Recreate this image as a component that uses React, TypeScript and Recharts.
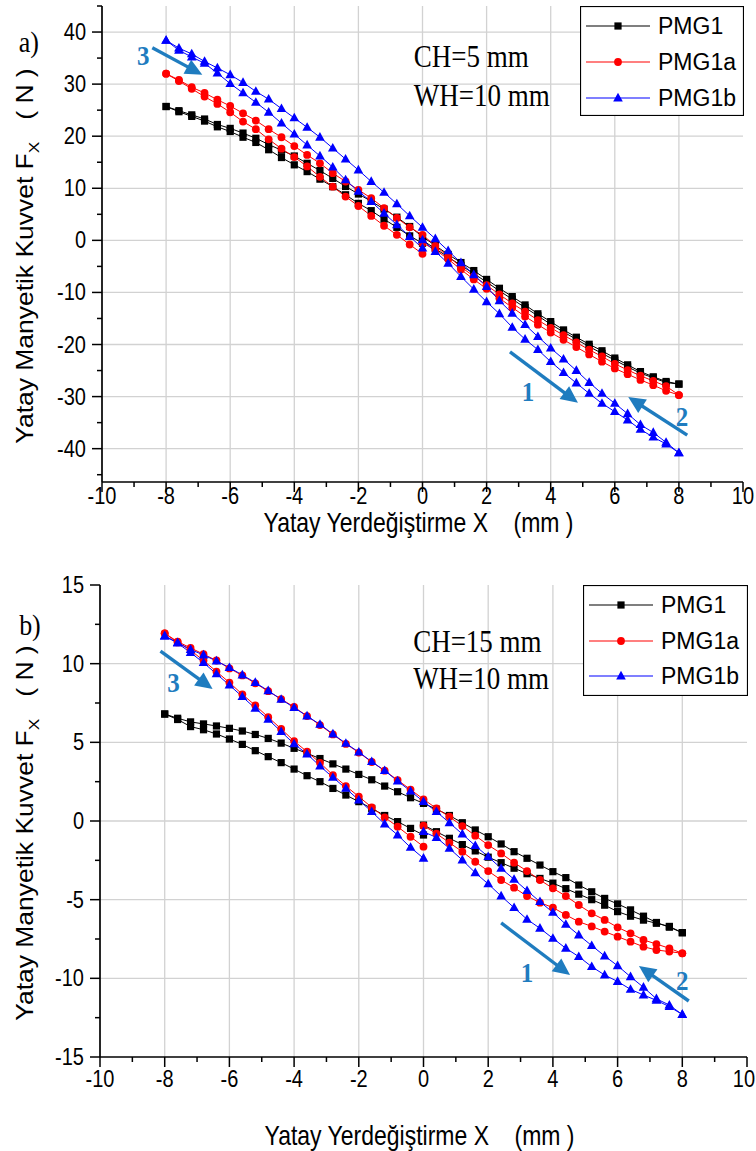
import React from 'react';
import {
  LineChart,
  Line,
  XAxis,
  YAxis,
  CartesianGrid,
  ReferenceLine,
  ReferenceDot,
  Legend,
} from 'recharts';

// ---------- x positions of the three sweeps (mm) ----------
const X_OUT = [0, 0.4, 0.8, 1.2, 1.6, 2, 2.4, 2.8, 3.2, 3.6, 4, 4.4, 4.8, 5.2, 5.6, 6, 6.4, 6.8, 7.2, 7.6, 8];
const X_BACK = [8, 7.6, 7.2, 6.8, 6.4, 6, 5.6, 5.2, 4.8, 4.4, 4, 3.6, 3.2, 2.8, 2.4, 2, 1.6, 1.2, 0.8, 0.4, 0,
  -0.4, -0.8, -1.2, -1.6, -2, -2.4, -2.8, -3.2, -3.6, -4, -4.4, -4.8, -5.2, -5.6, -6, -6.4, -6.8, -7.2, -7.6, -8];
const X_RET = [-8, -7.6, -7.2, -6.8, -6.4, -6, -5.6, -5.2, -4.8, -4.4, -4, -3.6, -3.2, -2.8, -2.4, -2, -1.6, -1.2, -0.8, -0.4, 0];

// ---------- panel a) CH=5 mm ----------
const A_PMG1_OUT = [0.0, -1.6, -3.2, -4.8, -6.4, -8.0, -9.7, -11.3, -12.9, -14.5, -16.1, -17.6, -19.0, -20.4, -21.7, -23.0, -24.3, -25.5, -26.4, -27.3, -27.6];
const A_PMG1_BACK = [-27.6, -27.1, -26.2, -25.2, -23.9, -22.6, -21.2, -19.95, -18.6, -17.2, -15.6, -14.1, -12.4, -10.8, -9.2, -7.5, -5.8, -4.26, -2.7, -1.0, 0.7,
  2.66, 4.45, 6.0, 7.5, 8.9, 10.35, 11.9, 13.4, 14.8, 16.2, 17.3, 18.4, 19.6, 20.6, 21.5, 22.25, 23.3, 24.1, 24.9, 25.7];
const A_PMG1_RET = [25.7, 24.7, 23.8, 22.9, 21.8, 20.9, 19.8, 18.8, 17.4, 15.9, 14.5, 13.2, 11.75, 10.3, 8.75, 7.1, 5.7, 4.07, 2.5, 0.86, -0.55];

const A_PMG1A_OUT = [-0.5, -1.8, -3.6, -5.6, -7.5, -9.3, -11.1, -12.9, -14.6, -16.2, -17.7, -19.1, -20.5, -21.9, -23.3, -24.6, -25.7, -26.8, -27.8, -28.9, -29.7];
const A_PMG1A_BACK = [-29.7, -28.0, -27.0, -26.0, -24.9, -23.7, -22.3, -21.0, -19.6, -18.2, -16.8, -15.3, -13.7, -12.1, -10.4, -8.6, -6.9, -5.1, -3.1, -1.05, 1.06,
  2.5, 4.3, 6.2, 8.1, 9.7, 11.3, 12.9, 14.8, 16.4, 18.1, 19.8, 21.35, 23.0, 24.4, 25.8, 27.0, 28.3, 29.4, 30.8, 32.0];
const A_PMG1A_RET = [32.0, 30.6, 29.1, 27.6, 26.2, 24.6, 22.8, 21.35, 19.4, 17.6, 16.0, 14.2, 12.2, 10.3, 8.4, 6.6, 4.7, 2.8, 1.06, -0.8, -2.6];

const A_PMG1B_OUT = [0.1, -2.15, -4.4, -6.95, -9.4, -11.8, -14.1, -16.7, -19.0, -21.0, -23.3, -25.4, -27.4, -29.4, -31.3, -32.9, -34.5, -36.3, -37.8, -39.1, -40.8];
const A_PMG1B_BACK = [-40.8, -38.8, -36.9, -35.4, -33.3, -31.3, -29.4, -27.3, -25.0, -22.8, -20.7, -18.5, -16.2, -14.0, -11.6, -8.9, -6.6, -4.3, -2.0, 0.3, 2.5,
  4.7, 7.0, 9.2, 11.3, 13.5, 15.6, 17.7, 19.8, 21.7, 23.5, 25.3, 27.1, 28.6, 30.3, 31.8, 33.1, 34.35, 35.8, 36.9, 38.4];
const A_PMG1B_RET = [38.4, 36.5, 35.2, 34.0, 32.1, 30.1, 28.3, 26.5, 24.6, 22.5, 20.4, 18.3, 16.2, 14.05, 11.6, 9.4, 7.45, 5.2, 3.0, 0.73, -1.5];

// ---------- panel b) CH=15 mm ----------
const B_PMG1_OUT = [-0.26, -0.68, -1.1, -1.5, -1.9, -2.3, -2.65, -3.0, -3.35, -3.65, -3.95, -4.3, -4.65, -5.0, -5.35, -5.76, -6.05, -6.3, -6.5, -6.7, -7.1];
const B_PMG1_BACK = [-7.1, -6.75, -6.45, -6.05, -5.65, -5.27, -4.92, -4.5, -4.07, -3.6, -3.22, -2.8, -2.37, -1.95, -1.46, -1.0, -0.57, -0.11, 0.35, 0.75, 1.12,
  1.48, 1.86, 2.22, 2.62, 2.96, 3.3, 3.63, 3.97, 4.3, 4.62, 4.95, 5.25, 5.5, 5.72, 5.89, 6.04, 6.17, 6.3, 6.53, 6.8];
const B_PMG1_RET = [6.8, 6.45, 6.0, 5.8, 5.53, 5.21, 4.87, 4.47, 4.09, 3.71, 3.3, 2.88, 2.5, 2.07, 1.65, 1.23, 0.8, 0.35, -0.04, -0.47, -0.89];

const B_PMG1A_OUT = [-0.3, -0.8, -1.38, -1.95, -2.59, -3.18, -3.75, -4.24, -4.77, -5.19, -5.5, -5.97, -6.4, -6.7, -7.03, -7.35, -7.67, -7.99, -8.2, -8.3, -8.41];
const B_PMG1A_BACK = [-8.41, -8.09, -7.82, -7.56, -7.14, -6.76, -6.29, -5.87, -5.34, -4.77, -4.28, -3.75, -3.18, -2.65, -2.06, -1.53, -0.93, -0.32, 0.27, 0.8, 1.38,
  2.0, 2.6, 3.2, 3.75, 4.35, 4.9, 5.5, 6.1, 6.67, 7.25, 7.75, 8.25, 8.75, 9.25, 9.7, 10.2, 10.6, 11.0, 11.4, 11.93];
const B_PMG1A_RET = [11.93, 11.35, 10.85, 10.2, 9.5, 8.8, 8.05, 7.35, 6.6, 5.85, 5.08, 4.4, 3.7, 2.92, 2.22, 1.55, 0.87, 0.23, -0.36, -1.0, -1.63];

const B_PMG1B_OUT = [-0.68, -1.05, -1.74, -2.48, -3.29, -4.0, -4.77, -5.51, -6.25, -6.82, -7.46, -8.09, -8.62, -9.26, -9.79, -10.2, -10.7, -11.06, -11.4, -11.8, -12.3];
const B_PMG1B_BACK = [-12.3, -11.7, -11.3, -10.57, -9.9, -9.2, -8.58, -7.92, -7.25, -6.57, -5.81, -5.13, -4.43, -3.71, -3.01, -2.27, -1.57, -0.83, -0.11, 0.59, 1.23,
  1.9, 2.54, 3.2, 3.77, 4.38, 4.93, 5.53, 6.14, 6.67, 7.2, 7.73, 8.28, 8.8, 9.28, 9.75, 10.17, 10.55, 10.9, 11.34, 11.76];
const B_PMG1B_RET = [11.76, 11.3, 10.7, 10.06, 9.35, 8.64, 7.9, 7.16, 6.46, 5.68, 4.9, 4.26, 3.49, 2.77, 2.07, 1.33, 0.59, -0.19, -0.89, -1.68, -2.37];

// ---------- axes ----------
const X_TICKS = [-10, -9, -8, -7, -6, -5, -4, -3, -2, -1, 0, 1, 2, 3, 4, 5, 6, 7, 8, 9, 10];
const X_MAJOR = [-10, -8, -6, -4, -2, 0, 2, 4, 6, 8, 10];
const X_GRID = [-8, -6, -4, -2, 0, 2, 4, 6, 8];
const A_Y_TICKS = [-45, -40, -35, -30, -25, -20, -15, -10, -5, 0, 5, 10, 15, 20, 25, 30, 35, 40, 45];
const A_Y_MAJOR = [-40, -30, -20, -10, 0, 10, 20, 30, 40];
const A_Y_GRID = [-40, -30, -20, -10, 0, 10, 20, 30, 40];
const B_Y_TICKS = [-15, -12.5, -10, -7.5, -5, -2.5, 0, 2.5, 5, 7.5, 10, 12.5, 15];
const B_Y_MAJOR = [-15, -10, -5, 0, 5, 10, 15];
const B_Y_GRID = [-10, -5, 0, 5, 10];

const SERIES_NAMES = ['PMG1', 'PMG1a', 'PMG1b'];
const SERIES_COLORS = ['#000000', '#ff0000', '#0000ff'];
const SERIES_MARKERS = ['square', 'circle', 'triangle'];

// arrows [x1, y1, x2(tip), y2(tip)] and their numbers [label, x, y]
const A_ARROWS = [[-8.43, 36.98, -6.87, 31.8], [2.73, -21.4, 4.85, -31.2], [8.26, -37.4, 6.42, -30.1]];
const A_ARROW_LABELS: [string, number, number][] = [['3', -8.71, 35.3], ['1', 3.29, -29.1], ['2', 8.1, -33.9]];
const B_ARROWS = [[-8.13, 10.8, -6.52, 8.39], [2.4, -6.48, 4.53, -9.79], [8.2, -11.44, 6.66, -9.22]];
const B_ARROW_LABELS: [string, number, number][] = [['3', -7.73, 8.77], ['1', 3.2, -9.66], ['2', 8.0, -10.2]];

const SANS = '"Liberation Sans", Arial, Helvetica, sans-serif';
const SERIF = '"Liberation Serif", "Times New Roman", Times, serif';
const ARROW_COLOR = '#1f7cbf';

function buildLoop(out: number[], back: number[], ret: number[]) {
  return [
    ...X_OUT.map((x, i) => ({ x, y: out[i] })),
    ...X_BACK.map((x, i) => ({ x, y: back[i] })),
    ...X_RET.map((x, i) => ({ x, y: ret[i] })),
  ];
}

const A_DATA = [
  buildLoop(A_PMG1_OUT, A_PMG1_BACK, A_PMG1_RET),
  buildLoop(A_PMG1A_OUT, A_PMG1A_BACK, A_PMG1A_RET),
  buildLoop(A_PMG1B_OUT, A_PMG1B_BACK, A_PMG1B_RET),
];
const B_DATA = [
  buildLoop(B_PMG1_OUT, B_PMG1_BACK, B_PMG1_RET),
  buildLoop(B_PMG1A_OUT, B_PMG1A_BACK, B_PMG1A_RET),
  buildLoop(B_PMG1B_OUT, B_PMG1B_BACK, B_PMG1B_RET),
];

function markerEl(type: string, cx: number, cy: number, color: string, key?: any) {
  if (cx == null || cy == null || isNaN(cx) || isNaN(cy)) return <g key={key} />;
  if (type === 'square') {
    return <rect key={key} x={cx - 3.6} y={cy - 3.6} width={7.2} height={7.2} fill={color} />;
  }
  if (type === 'circle') {
    return <circle key={key} cx={cx} cy={cy} r={3.9} fill={color} />;
  }
  return (
    <path
      key={key}
      d={`M${cx},${cy - 5.2} L${cx + 4.8},${cy + 3.4} L${cx - 4.8},${cy + 3.4} Z`}
      fill={color}
    />
  );
}

const isIn = (arr: number[], v: number) => arr.some((a) => Math.abs(a - v) < 1e-6);

const AXIS_LINE = { stroke: '#000', strokeWidth: 1.7 };

function makeBottomTick(labelDy: number) {
  return (p: any) => {
    const v = p.payload.value;
    const major = isIn(X_MAJOR, v);
    const last = v >= 10;
    return (
      <g>
        <line x1={p.x} y1={p.y} x2={p.x} y2={p.y + (major ? 10 : 5)} stroke="#000" strokeWidth={1.5} />
        {major && (
          <text
            transform={`translate(${last ? Math.min(p.x + 11, 755) : p.x}, ${p.y + labelDy}) scale(1, 1.15)`}
            x={0}
            y={0}
            textAnchor={last ? 'end' : 'middle'}
            fontFamily={SANS}
            fontSize={20}
            fill="#000"
          >
            {String(v)}
          </text>
        )}
      </g>
    );
  };
}
const topTick = (p: any) => {
  const major = isIn(X_MAJOR, p.payload.value);
  return <line x1={p.x} y1={p.y} x2={p.x} y2={p.y + (major ? 10 : 5)} stroke="#000" strokeWidth={1.5} />;
};
function makeLeftTick(majors: number[]) {
  return (p: any) => {
    const v = p.payload.value;
    const major = isIn(majors, v);
    return (
      <g>
        <line x1={p.x} y1={p.y} x2={p.x - (major ? 10 : 5)} y2={p.y} stroke="#000" strokeWidth={1.5} />
        {major && (
          <text
            transform={`translate(${p.x - 16}, ${p.y + 8}) scale(1, 1.15)`}
            x={0}
            y={0}
            textAnchor="end"
            fontFamily={SANS}
            fontSize={20}
            fill="#000"
          >
            {String(v)}
          </text>
        )}
      </g>
    );
  };
}
function makeRightTick(majors: number[]) {
  return (p: any) => {
    const major = isIn(majors, p.payload.value);
    return <line x1={p.x} y1={p.y} x2={p.x - (major ? 10 : 5)} y2={p.y} stroke="#000" strokeWidth={1.5} />;
  };
}

function arrowShape(p: any) {
  const { x1, y1, x2, y2 } = p;
  if ([x1, y1, x2, y2].some((v) => v == null || isNaN(v))) return <g />;
  const dx = x2 - x1;
  const dy = y2 - y1;
  const len = Math.sqrt(dx * dx + dy * dy) || 1;
  const ux = dx / len;
  const uy = dy / len;
  const head = 17;
  const half = 8;
  const bx = x2 - ux * head;
  const by = y2 - uy * head;
  return (
    <g>
      <line x1={x1} y1={y1} x2={bx + ux * 2} y2={by + uy * 2} stroke={ARROW_COLOR} strokeWidth={3.4} />
      <polygon
        points={`${x2},${y2} ${bx - uy * half},${by + ux * half} ${bx + uy * half},${by - ux * half}`}
        fill={ARROW_COLOR}
      />
    </g>
  );
}

function textShape(label: string, opts: any) {
  return (p: any) => (
    <text
      transform={`translate(${p.cx}, ${p.cy}) scale(1, ${opts.stretch || 1})`}
      x={0}
      y={0}
      fill={opts.fill || '#000'}
      fontFamily={opts.family || SERIF}
      fontSize={opts.size}
      fontWeight={opts.weight || 'normal'}
      textAnchor={opts.anchor || 'start'}
      dominantBaseline={opts.baseline || 'auto'}
      style={{ whiteSpace: 'pre' }}
    >
      {label}
    </text>
  );
}

function LegendBox({ width, height, rows }: { width: number; height: number; rows: number[] }) {
  return (
    <svg width={width} height={height} style={{ display: 'block' }}>
      <rect x={0.5} y={0.5} width={width - 1} height={height - 1} fill="#fff" stroke="#000" strokeWidth={1.2} />
      {SERIES_NAMES.map((name, i) => (
        <g key={name}>
          <line x1={6} y1={rows[i]} x2={70} y2={rows[i]} stroke={SERIES_COLORS[i]} strokeWidth={1.2} />
          {markerEl(SERIES_MARKERS[i], 38, rows[i], SERIES_COLORS[i])}
          <text x={78} y={rows[i] + 8} fontFamily={SANS} fontSize={23} fill="#000">
            {name}
          </text>
        </g>
      ))}
    </svg>
  );
}

type PanelCfg = {
  height: number;
  margin: { top: number; right: number; bottom: number; left: number };
  yAxisWidth: number;
  xAxisHeight: number;
  yDomain: [number, number];
  yTicks: number[];
  yMajor: number[];
  yGrid: number[];
  data: { x: number; y: number }[][];
  arrows: number[][];
  arrowLabels: [string, number, number][];
  panelLabel: [string, number, number];
  notes: [string, number, number][];
  legendPos: { left: number; top: number; width: number; height: number; rows: number[] };
  xTickDy: number;
  xTitleDy: number;
};

function Panel({ cfg }: { cfg: PanelCfg }) {
  const xTitle = (p: any) => {
    const vb = p.viewBox || { x: 0, y: 0, width: 0, height: 0 };
    return (
      <text
        transform={`translate(${vb.x + vb.width / 2 - 4}, ${vb.y + cfg.xTitleDy}) scale(1, 1.2)`}
        x={0}
        y={0}
        textAnchor="middle"
        fontFamily={SANS}
        fontSize={23}
        fill="#000"
        style={{ whiteSpace: 'pre' }}
      >
        {'Yatay Yerdeğiştirme X    (mm )'}
      </text>
    );
  };
  const yTitle = (p: any) => {
    const vb = p.viewBox || { x: 0, y: 0, width: 0, height: 0 };
    const cy = vb.y + vb.height / 2 + 12;
    return (
      <text
        transform={`translate(${vb.x + 33}, ${cy}) rotate(-90) scale(1.15, 1)`}
        x={0}
        y={0}
        textAnchor="middle"
        fontFamily={SANS}
        fontSize={23}
        fill="#000"
        style={{ whiteSpace: 'pre' }}
      >
        {'Yatay Manyetik Kuvvet F'}
        <tspan fontSize={15} dy={6}>X</tspan>
        <tspan dy={-6}>{'   ( N )'}</tspan>
      </text>
    );
  };

  return (
    <LineChart width={756} height={cfg.height} margin={cfg.margin}>
      <CartesianGrid
        stroke="#d2d2d2"
        strokeWidth={1.3}
        verticalValues={X_GRID}
        horizontalValues={cfg.yGrid}
      />
      {cfg.data.map((d, i) => (
        <Line
          key={SERIES_NAMES[i]}
          name={SERIES_NAMES[i]}
          data={d}
          dataKey="y"
          type="linear"
          stroke={SERIES_COLORS[i]}
          strokeWidth={1}
          isAnimationActive={false}
          dot={(p: any) => markerEl(SERIES_MARKERS[i], p.cx, p.cy, SERIES_COLORS[i], `${SERIES_NAMES[i]}-${p.index}`)}
          activeDot={false}
        />
      ))}
      <XAxis
        type="number"
        dataKey="x"
        domain={[-10, 10]}
        ticks={X_TICKS}
        interval={0}
        tickSize={0}
        tickMargin={0}
        tickLine={false}
        axisLine={AXIS_LINE}
        tick={makeBottomTick(cfg.xTickDy)}
        height={cfg.xAxisHeight}
        allowDataOverflow
        label={{ content: xTitle }}
      />
      <XAxis
        xAxisId="top"
        orientation="top"
        type="number"
        dataKey="x"
        domain={[-10, 10]}
        ticks={X_TICKS}
        interval={0}
        tickSize={0}
        tickMargin={0}
        tickLine={false}
        axisLine={AXIS_LINE}
        tick={topTick}
        height={0}
        allowDataOverflow
      />
      <YAxis
        type="number"
        domain={cfg.yDomain}
        ticks={cfg.yTicks}
        interval={0}
        tickSize={0}
        tickMargin={0}
        tickLine={false}
        axisLine={AXIS_LINE}
        tick={makeLeftTick(cfg.yMajor)}
        width={cfg.yAxisWidth}
        allowDataOverflow
        label={{ content: yTitle }}
      />
      <YAxis
        yAxisId="right"
        orientation="right"
        type="number"
        domain={cfg.yDomain}
        ticks={cfg.yTicks}
        interval={0}
        tickSize={0}
        tickMargin={0}
        tickLine={false}
        axisLine={AXIS_LINE}
        tick={makeRightTick(cfg.yMajor)}
        width={0}
        allowDataOverflow
      />
      {cfg.arrows.map((a, i) => (
        <ReferenceLine
          key={`arr${i}`}
          segment={[{ x: a[0], y: a[1] }, { x: a[2], y: a[3] }]}
          shape={arrowShape}
          ifOverflow="visible"
        />
      ))}
      {cfg.arrowLabels.map(([t, x, y], i) => (
        <ReferenceDot
          key={`al${i}`}
          x={x}
          y={y}
          r={0}
          ifOverflow="visible"
          shape={textShape(t, { size: 25, weight: 'bold', fill: ARROW_COLOR, anchor: 'middle', baseline: 'central', stretch: 1.1 })}
        />
      ))}
      <ReferenceDot
        x={cfg.panelLabel[1]}
        y={cfg.panelLabel[2]}
        r={0}
        ifOverflow="visible"
        shape={textShape(cfg.panelLabel[0], { size: 26, stretch: 1.15 })}
      />
      {cfg.notes.map(([t, x, y], i) => (
        <ReferenceDot key={`n${i}`} x={x} y={y} r={0} ifOverflow="visible" shape={textShape(t, { size: 27, stretch: 1.2 })} />
      ))}
      <Legend
        layout="horizontal"
        verticalAlign="middle"
        align="center"
        wrapperStyle={{
          position: 'absolute',
          left: cfg.legendPos.left,
          top: cfg.legendPos.top,
          width: cfg.legendPos.width,
          height: cfg.legendPos.height,
          margin: 0,
          padding: 0,
        }}
        content={() => (
          <LegendBox width={cfg.legendPos.width} height={cfg.legendPos.height} rows={cfg.legendPos.rows} />
        )}
      />
    </LineChart>
  );
}

const PANEL_A: PanelCfg = {
  height: 560,
  margin: { top: 6, right: 13, bottom: 0, left: 0 },
  yAxisWidth: 102,
  xAxisHeight: 78,
  yDomain: [-46.4, 45],
  yTicks: A_Y_TICKS,
  yMajor: A_Y_MAJOR,
  yGrid: A_Y_GRID,
  data: A_DATA,
  arrows: A_ARROWS,
  arrowLabels: A_ARROW_LABELS,
  panelLabel: ['a)', -12.6, 36.2],
  notes: [['CH=5 mm', -0.27, 33.3], ['WH=10 mm', -0.27, 25.8]],
  legendPos: { left: 580, top: 6, width: 164, height: 110, rows: [20, 56, 92] },
  xTickDy: 22,
  xTitleDy: 50,
};

const PANEL_B: PanelCfg = {
  height: 591,
  margin: { top: 25, right: 9, bottom: 0, left: 0 },
  yAxisWidth: 100,
  xAxisHeight: 94,
  yDomain: [-15, 15],
  yTicks: B_Y_TICKS,
  yMajor: B_Y_MAJOR,
  yGrid: B_Y_GRID,
  data: B_DATA,
  arrows: B_ARROWS,
  arrowLabels: B_ARROW_LABELS,
  panelLabel: ['b)', -12.5, 11.8],
  notes: [['CH=15 mm', -0.32, 10.76], ['WH=10 mm', -0.32, 8.37]],
  legendPos: { left: 583, top: 25, width: 165, height: 111, rows: [20, 56, 91] },
  xTickDy: 30,
  xTitleDy: 88,
};

export default function App() {
  return (
    <div style={{ position: 'absolute', left: 0, top: 0, width: 756, height: 1151, background: '#fff' }}>
      <div style={{ position: 'absolute', left: 0, top: 0 }}>
        <Panel cfg={PANEL_A} />
      </div>
      <div style={{ position: 'absolute', left: 0, top: 560 }}>
        <Panel cfg={PANEL_B} />
      </div>
    </div>
  );
}
